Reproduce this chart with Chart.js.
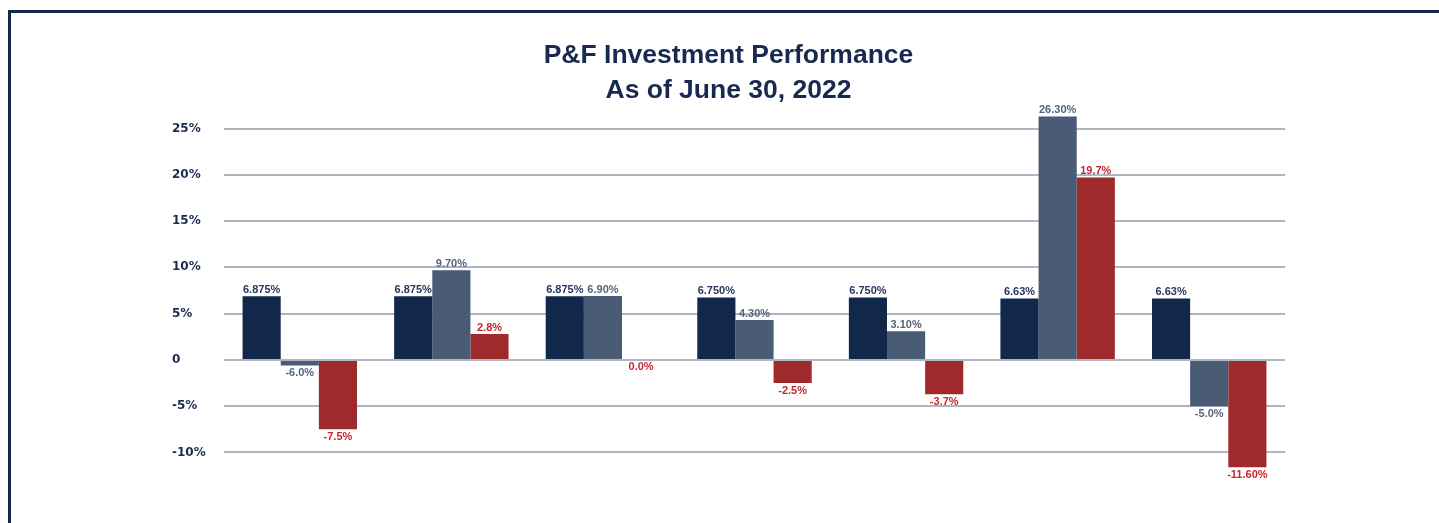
<!DOCTYPE html>
<html>
<head>
<meta charset="utf-8">
<script src="https://cdn.jsdelivr.net/npm/chart.js@4/dist/chart.umd.min.js"></script>
<style>
    html, body { margin: 0; padding: 0; background: #fff; overflow: hidden; }
    #frame {
        position: absolute; left: 8px; top: 10px; width: 1500px; height: 600px;
        border-left: 3px solid #15294d; border-top: 3px solid #15294d;
    }
    #chart { position: absolute; left: 0; top: 0; }
</style>
</head>
<body>
<div id="frame"></div>
<canvas id="chart" width="1439" height="523"></canvas>
<script>
// groups on the x axis (no labels shown in the picture)
const categories = ['1', '2', '3', '4', '5', '6', '7'];

// bar values
const series_a = [6.875, 6.875, 6.875, 6.75, 6.75, 6.63, 6.63];
const series_b = [-0.6, 9.7, 6.9, 4.3, 3.1, 26.3, -5.0];
const series_c = [-7.5, 2.8, 0.0, -2.5, -3.7, 19.7, -11.6];

// the value labels exactly as printed on the chart
const labels_a = ['6.875%', '6.875%', '6.875%', '6.750%', '6.750%', '6.63%', '6.63%'];
const labels_b = ['-6.0%', '9.70%', '6.90%', '4.30%', '3.10%', '26.30%', '-5.0%'];
const labels_c = ['-7.5%', '2.8%', '0.0%', '-2.5%', '-3.7%', '19.7%', '-11.60%'];

const y_ticks = [-10, -5, 0, 5, 10, 15, 20, 25];

const COLORS = {
    navy: 'rgb(17,40,74)',
    slate: 'rgb(74,91,117)',
    red: 'rgb(158,42,43)',
    navy_text: 'rgb(40,54,96)',
    slate_text: 'rgb(86,101,126)',
    red_text: 'rgb(196,38,46)',
    axis_text: 'rgb(27,43,79)',
    grid: 'rgb(174,182,196)',
};

const FONT = '"Liberation Sans", Arial, sans-serif';

const value_labels = {
    id: 'valueLabels',
    afterDatasetsDraw(chart) {
        const ctx = chart.ctx;
        const texts = [labels_a, labels_b, labels_c];
        const colors = [COLORS.navy_text, COLORS.slate_text, COLORS.red_text];
        chart.data.datasets.forEach((ds, i) => {
            const meta = chart.getDatasetMeta(i);
            meta.data.forEach((bar, j) => {
                ctx.save();
                ctx.font = `bold 11px ${FONT}`;
                ctx.fillStyle = colors[i];
                ctx.textAlign = 'center';
                if (ds.data[j] > 0) {
                    ctx.textBaseline = 'bottom';
                    ctx.fillText(texts[i][j], bar.x, bar.y - 1);
                } else {
                    ctx.textBaseline = 'top';
                    ctx.fillText(texts[i][j], bar.x, Math.max(bar.y, bar.base) + 2);
                }
                ctx.restore();
            });
        });
    }
};

new Chart(document.getElementById('chart'), {
    type: 'bar',
    data: {
        labels: categories,
        datasets: [
            { data: series_a, backgroundColor: COLORS.navy },
            { data: series_b, backgroundColor: COLORS.slate },
            { data: series_c, backgroundColor: COLORS.red },
        ]
    },
    plugins: [value_labels],
    options: {
        responsive: false,
        animation: false,
        layout: { padding: { left: 172, right: 154, top: 0, bottom: 52 } },
        datasets: { bar: { categoryPercentage: 0.755, barPercentage: 1.0 } },
        plugins: {
            legend: { display: false },
            tooltip: { enabled: false },
            title: {
                display: true,
                text: ['P&F Investment Performance', 'As of June 30, 2022'],
                color: 'rgb(24,42,80)',
                font: { family: FONT, size: 26.5, weight: 'bold', lineHeight: 1.33 },
                padding: { top: 38, bottom: 1.5 }
            }
        },
        scales: {
            x: { display: false },
            y: {
                min: -12,
                max: 27,
                afterBuildTicks: (axis) => {
                    axis.ticks = y_ticks.map(v => ({ value: v }));
                },
                afterFit: (axis) => { axis.width = 52; },
                border: { display: false },
                grid: { color: COLORS.grid, lineWidth: 2, drawTicks: false },
                ticks: {
                    crossAlign: 'far',
                    padding: 0,
                    color: COLORS.axis_text,
                    font: { family: '"DejaVu Sans", sans-serif', size: 12, weight: 'bold' },
                    callback: (v) => v === 0 ? '0' : v + '%'
                }
            }
        }
    }
});
</script>
</body>
</html>
